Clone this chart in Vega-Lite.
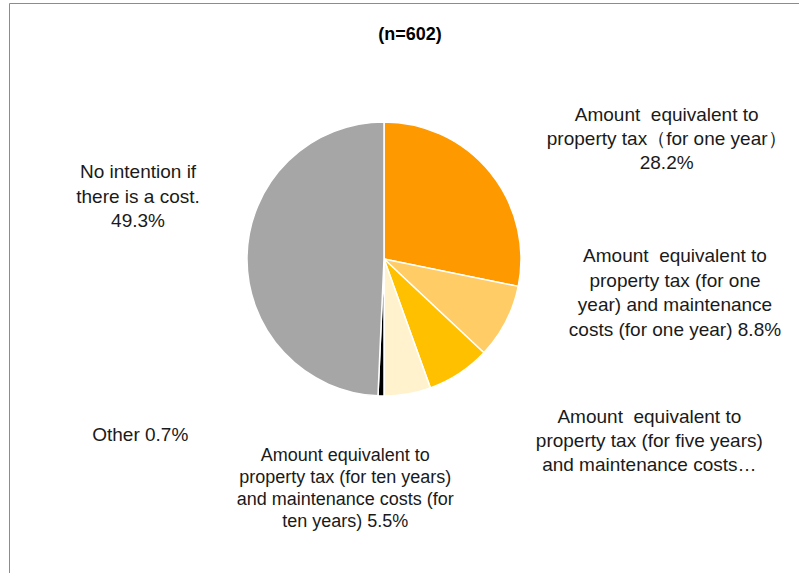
{
  "$schema": "https://vega.github.io/schema/vega-lite/v6.json",
  "width": 750,
  "height": 512,
  "autosize": {"type": "none"},
  "padding": {"left": 9, "top": 3, "right": 40, "bottom": 58},
  "background": "white",
  "config": {"view": {"stroke": null}, "text": {"font": "Liberation Sans"}},
  "title": {"text": "(n=602)", "fontSize": 18, "font": "Liberation Sans", "fontWeight": "bold", "color": "#000000", "anchor": "middle", "dx": 26, "dy": 48},
  "data": {"values": [
    {"k": 1, "category": "Amount equivalent to property tax (for one year)", "pct": 28.2, "label": "Amount \u00a0equivalent to\nproperty tax（for one year）\n28.2%"},
    {"k": 2, "category": "Amount equivalent to property tax (for one year) and maintenance costs (for one year)", "pct": 8.8, "label": "Amount \u00a0equivalent to\nproperty tax (for one\nyear) and maintenance\ncosts (for one year) 8.8%"},
    {"k": 3, "category": "Amount equivalent to property tax (for five years) and maintenance costs (for five years)", "pct": 7.5, "label": "Amount \u00a0equivalent to\nproperty tax (for five years)\nand maintenance costs…"},
    {"k": 4, "category": "Amount equivalent to property tax (for ten years) and maintenance costs (for ten years)", "pct": 5.5, "label": "Amount equivalent to\nproperty tax (for ten years)\nand maintenance costs (for\nten years) 5.5%"},
    {"k": 5, "category": "Other", "pct": 0.7, "label": "Other 0.7%"},
    {"k": 6, "category": "No intention if there is a cost.", "pct": 49.3, "label": "No intention if\nthere is a cost.\n49.3%"}
  ]},
  "encoding": {
    "theta": {"field": "pct", "type": "quantitative", "stack": true},
    "order": {"field": "k", "type": "quantitative"}
  },
  "layer": [
    {
      "mark": {"type": "point", "opacity": 0},
      "encoding": {
        "x": {"datum": 0, "type": "quantitative", "scale": {"domain": [0, 1], "range": [0, 800]}, "axis": {"orient": "top", "domainColor": "#8c8c8c", "domainWidth": 1, "ticks": false, "labels": false, "grid": false, "title": null}},
        "y": {"datum": 0, "type": "quantitative", "scale": {"domain": [0, 1], "range": [0, 580]}, "axis": {"orient": "left", "domainColor": "#8c8c8c", "domainWidth": 1, "ticks": false, "labels": false, "grid": false, "title": null}}
      }
    },
    {
      "mark": {"type": "arc", "radius": 137, "stroke": "white", "strokeWidth": 1.5},
      "encoding": {
        "color": {"field": "k", "type": "nominal", "scale": {"domain": [1, 2, 3, 4, 5, 6], "range": ["#FF9900", "#FFCC66", "#FFC000", "#FFF2CC", "#000000", "#A6A6A6"]}, "legend": null}
      }
    },
    {
      "mark": {"type": "text", "radius": 170, "dx": 151, "dy": -36, "fontSize": 19, "lineHeight": 24, "lineBreak": "\n", "align": "center", "baseline": "middle", "color": "#1a1a1a"},
      "encoding": {"text": {"condition": {"test": "datum.k == 1", "field": "label"}, "value": ""}}
    },
    {
      "mark": {"type": "text", "radius": 170, "dx": 140, "dy": -81, "fontSize": 19, "lineHeight": 24.5, "lineBreak": "\n", "align": "center", "baseline": "middle", "color": "#1a1a1a"},
      "encoding": {"text": {"condition": {"test": "datum.k == 2", "field": "label"}, "value": ""}}
    },
    {
      "mark": {"type": "text", "radius": 170, "dx": 172, "dy": 16, "fontSize": 19, "lineHeight": 24, "lineBreak": "\n", "align": "center", "baseline": "middle", "color": "#1a1a1a"},
      "encoding": {"text": {"condition": {"test": "datum.k == 3", "field": "label"}, "value": ""}}
    },
    {
      "mark": {"type": "text", "radius": 170, "dx": -68, "dy": 30, "fontSize": 18, "lineHeight": 22, "lineBreak": "\n", "align": "center", "baseline": "middle", "color": "#1a1a1a"},
      "encoding": {"text": {"condition": {"test": "datum.k == 4", "field": "label"}, "value": ""}}
    },
    {
      "mark": {"type": "text", "radius": 170, "dx": -240, "dy": 6, "fontSize": 19, "lineHeight": 24, "lineBreak": "\n", "align": "center", "baseline": "middle", "color": "#1a1a1a"},
      "encoding": {"text": {"condition": {"test": "datum.k == 5", "field": "label"}, "value": ""}}
    },
    {
      "mark": {"type": "text", "radius": 170, "dx": -76, "dy": -83, "fontSize": 19, "lineHeight": 24.5, "lineBreak": "\n", "align": "center", "baseline": "middle", "color": "#1a1a1a"},
      "encoding": {"text": {"condition": {"test": "datum.k == 6", "field": "label"}, "value": ""}}
    }
  ]
}
